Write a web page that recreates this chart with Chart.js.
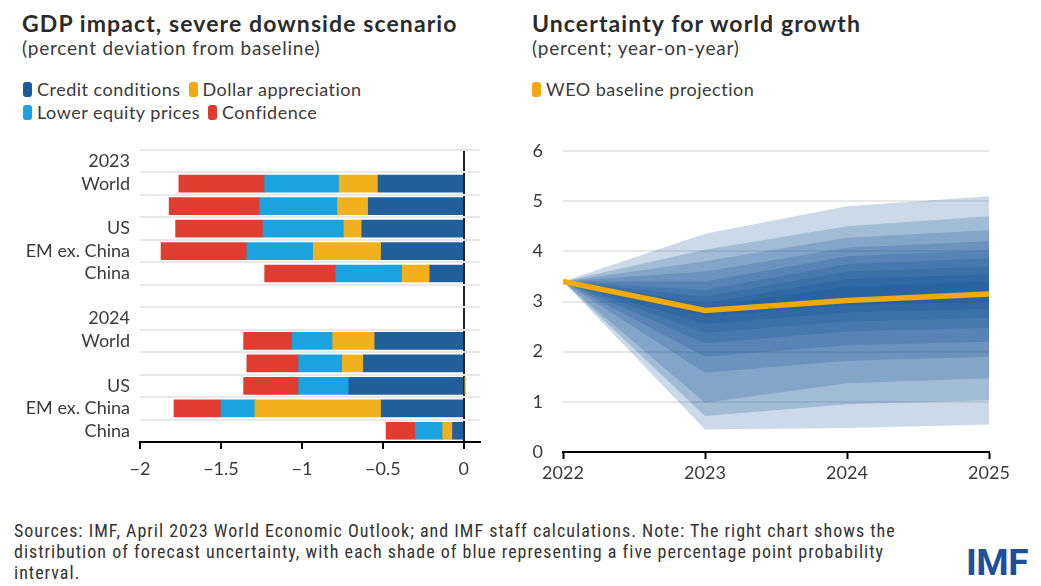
<!DOCTYPE html>
<html>
<head>
<meta charset="utf-8">
<script src="https://cdn.jsdelivr.net/npm/chart.js@4"></script>
<style>
  html, body { margin:0; padding:0; background:#fff; }
  body { width:1041px; height:586px; position:relative; overflow:hidden; font-family: Lato, "Noto Sans", sans-serif; color:#333; }
  .title { position:absolute; font-weight:700; font-size:23px; color:#2b2b2b; letter-spacing:1.1px; white-space:nowrap; }
  .sub { position:absolute; font-size:19px; color:#3a3a3a; white-space:nowrap; letter-spacing:0.8px; }
  .leg { position:absolute; font-size:18px; color:#3a3a3a; white-space:nowrap; display:flex; align-items:center; letter-spacing:0.5px; }
  .sw { display:inline-block; width:9px; height:15px; border-radius:3px; margin-right:5px; }
  .item { display:inline-flex; align-items:center; margin-right:8px; }
  .foot { position:absolute; left:14px; top:520px; font-family:"Liberation Sans Narrow", "Roboto Condensed", Roboto, sans-serif; font-size:18px; line-height:21px; letter-spacing:1px; color:#333; white-space:nowrap; }
  .logo { position:absolute; left:966px; top:541px; font-family:"Liberation Sans Narrow", Roboto, sans-serif; font-weight:700; font-size:37px; color:#1f4f9c; letter-spacing:-0.5px; }
  canvas { position:absolute; }
</style>
</head>
<body>
<div class="title" style="left:22px; top:9px;">GDP impact, severe downside scenario</div>
<div class="sub" style="left:22px; top:36px;">(percent deviation from baseline)</div>
<div class="leg" style="left:23px; top:78px;">
  <span class="item"><span class="sw" style="background:#1f5b9c"></span>Credit conditions</span>
  <span class="item"><span class="sw" style="background:#f3a712"></span>Dollar appreciation</span>
</div>
<div class="leg" style="left:23px; top:101px;">
  <span class="item"><span class="sw" style="background:#1ba3e0"></span>Lower equity prices</span>
  <span class="item"><span class="sw" style="background:#e03a2e"></span>Confidence</span>
</div>

<div class="title" style="left:532px; top:9px;">Uncertainty for world growth</div>
<div class="sub" style="left:532px; top:36px;">(percent; year-on-year)</div>
<div class="leg" style="left:532px; top:78px;">
  <span class="item"><span class="sw" style="background:#f3a712"></span>WEO baseline projection</span>
</div>

<canvas id="left" style="left:0px; top:140px; width:500px; height:345px;"></canvas>
<canvas id="right" style="left:500px; top:140px; width:541px; height:350px;"></canvas>

<div class="foot">Sources: IMF, April 2023 World Economic Outlook; and IMF staff calculations. Note: The right chart shows the<br>distribution of forecast uncertainty, with each shade of blue representing a five percentage point probability<br>interval.</div>
<div class="logo">IMF</div>

<script>
// ---------- Left chart data ----------
const categories = ['2023', 'World', '', 'US', 'EM ex. China', 'China', '', '2024', 'World', '', 'US', 'EM ex. China', 'China'];
const creditConditions   = [null, -0.53, -0.59, -0.63, -0.51, -0.21, null, null, -0.55, -0.62, -0.71, -0.51, -0.07];
const dollarAppreciation = [null, -0.24, -0.19, -0.11, -0.42, -0.17, null, null, -0.26, -0.13,  0.01, -0.78, -0.06];
const lowerEquityPrices  = [null, -0.46, -0.48, -0.50, -0.41, -0.41, null, null, -0.25, -0.27, -0.31, -0.21, -0.17];
const confidence         = [null, -0.53, -0.56, -0.54, -0.53, -0.44, null, null, -0.30, -0.32, -0.34, -0.29, -0.18];
const xTickValues = [-2, -1.5, -1, -0.5, 0];

// ---------- Right chart data ----------
const years = [2022, 2023, 2024, 2025];
const weoBaseline = [3.4, 2.82, 3.02, 3.15];
const p95 = [3.4, 4.35, 4.90, 5.10];
const p90 = [3.4, 4.03, 4.50, 4.70];
const p85 = [3.4, 3.80, 4.27, 4.42];
const p80 = [3.4, 3.60, 4.07, 4.20];
const p75 = [3.4, 3.40, 3.90, 4.02];
const p70 = [3.4, 3.23, 3.75, 3.86];
const p65 = [3.4, 3.10, 3.60, 3.70];
const p60 = [3.4, 2.97, 3.45, 3.55];
const p55 = [3.4, 2.90, 3.30, 3.40];
const p45 = [3.4, 2.70, 2.92, 3.00];
const p40 = [3.4, 2.55, 2.78, 2.85];
const p35 = [3.4, 2.37, 2.60, 2.67];
const p30 = [3.4, 2.17, 2.40, 2.47];
const p25 = [3.4, 1.90, 2.13, 2.20];
const p20 = [3.4, 1.58, 1.82, 1.90];
const p15 = [3.4, 0.98, 1.37, 1.47];
const p10 = [3.4, 0.72, 0.95, 1.03];
const p5  = [3.4, 0.45, 0.48, 0.55];
const yTickValues = [0, 1, 2, 3, 4, 5, 6];

const FONT = 'Lato, "Noto Sans", sans-serif';
const minus = v => String(v).replace('-', '\u2212');

// ---------- Left chart ----------
new Chart(document.getElementById('left'), {
  type: 'bar',
  data: {
    labels: categories,
    datasets: [
      { label: 'Credit conditions', data: creditConditions, backgroundColor: '#215e9c' },
      { label: 'Dollar appreciation', data: dollarAppreciation, backgroundColor: '#f0b11c' },
      { label: 'Lower equity prices', data: lowerEquityPrices, backgroundColor: '#1ba3e0' },
      { label: 'Confidence', data: confidence, backgroundColor: '#e03c30' }
    ]
  },
  options: {
    indexAxis: 'y',
    responsive: false,
    animation: false,
    devicePixelRatio: 1,
    layout: { padding: { top: 10, right: 20, left: 0, bottom: 0 } },
    plugins: { legend: { display: false }, tooltip: { enabled: false } },
    datasets: { bar: { barThickness: 17, borderWidth: 0 } },
    scales: {
      x: {
        type: 'linear', stacked: true, min: -2, max: 0.1,
        afterBuildTicks: s => { s.ticks = xTickValues.map(v => ({ value: v })); },
        afterFit: s => { s.height = 43; s.paddingLeft = 0; s.paddingRight = 0; },
        grid: {
          color: c => (c.tick && c.tick.value === 0) ? '#222' : 'rgba(0,0,0,0)',
          lineWidth: 2, tickColor: '#000', tickLength: 7, tickWidth: 2
        },
        border: { display: true, color: '#000', width: 2 },
        ticks: { color: '#3a3a3a', font: { family: FONT, size: 18 }, padding: 9, callback: v => minus(v) }
      },
      y: {
        stacked: true,
        afterFit: s => { s.width = 140; s.paddingTop = 0; s.paddingBottom = 0; },
        grid: { color: '#e8e8e8', lineWidth: 2, drawTicks: false },
        border: { display: false },
        ticks: { color: '#3a3a3a', font: { family: FONT, size: 18 }, padding: 10, autoSkip: false }
      }
    }
  }
});

// ---------- Right chart ----------
const bands = [[p95, p5], [p90, p10], [p85, p15], [p80, p20], [p75, p25], [p70, p30], [p65, p35], [p60, p40], [p55, p45]];
const fanColor = 'rgba(20,80,150,0.22)';
const pts = arr => arr.map((v, i) => ({ x: years[i], y: v }));
const rightSets = [
  { label: 'WEO baseline projection', data: pts(weoBaseline), borderColor: '#f2a900', borderWidth: 5.5, pointRadius: 0, fill: false, tension: 0, borderJoinStyle: 'miter' }
];
bands.forEach(([hi, lo]) => {
  rightSets.push({ data: pts(hi), borderWidth: 0, borderColor: 'rgba(0,0,0,0)', pointRadius: 0, fill: '+1', backgroundColor: fanColor, tension: 0 });
  rightSets.push({ data: pts(lo), borderWidth: 0, borderColor: 'rgba(0,0,0,0)', pointRadius: 0, fill: false, tension: 0 });
});

new Chart(document.getElementById('right'), {
  type: 'line',
  data: { datasets: rightSets },
  options: {
    responsive: false,
    animation: false,
    devicePixelRatio: 1,
    layout: { padding: { top: 11, right: 52, left: 0, bottom: 0 } },
    plugins: { legend: { display: false }, tooltip: { enabled: false } },
    scales: {
      x: {
        type: 'linear', min: 2022, max: 2025,
        afterBuildTicks: s => { s.ticks = years.map(v => ({ value: v })); },
        afterFit: s => { s.height = 38; s.paddingLeft = 0; s.paddingRight = 0; },
        grid: { drawOnChartArea: false, tickColor: '#000', tickLength: 7, tickWidth: 2 },
        border: { display: true, color: '#000', width: 2 },
        ticks: { color: '#3a3a3a', font: { family: FONT, size: 18 }, padding: 3, callback: v => String(v) }
      },
      y: {
        type: 'linear', min: 0, max: 6,
        afterBuildTicks: s => { s.ticks = yTickValues.map(v => ({ value: v })); },
        afterFit: s => { s.width = 63; s.paddingTop = 0; s.paddingBottom = 0; },
        grid: { color: '#e8e8e8', lineWidth: 2, drawTicks: false },
        border: { display: false },
        ticks: { color: '#3a3a3a', font: { family: FONT, size: 18 }, padding: 20, callback: v => String(v) }
      }
    }
  }
});
</script>
</body>
</html>
